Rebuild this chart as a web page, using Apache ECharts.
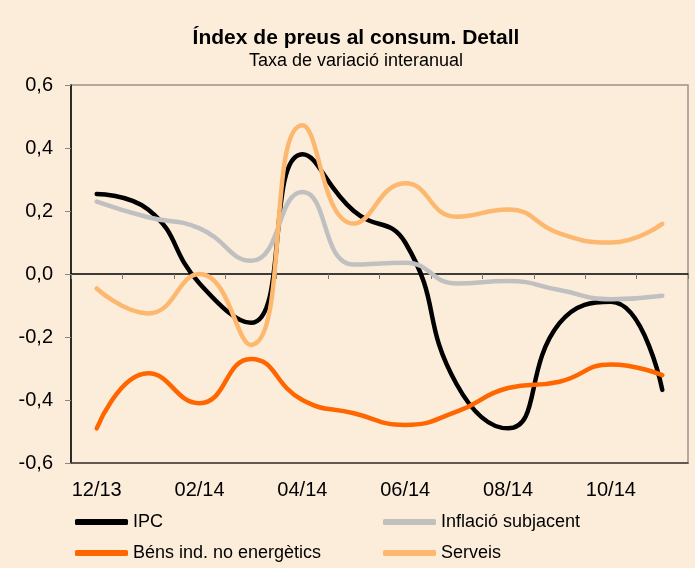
<!DOCTYPE html>
<html>
<head>
    <meta charset="utf-8">
    <title>IPC detall</title>
    <script type="text/javascript" src="https://cdn.jsdelivr.net/npm/echarts@6/dist/echarts.min.js"></script>
    <style>
        html, body { margin: 0; padding: 0; background: #FCEDDA; }
    </style>
</head>
<body>
	<div id="main" style="height:568px; width:695px;"></div>
	<script type="text/javascript">
	var months = ['12/13', '01/14', '02/14', '03/14', '04/14', '05/14', '06/14', '07/14', '08/14', '09/14', '10/14', '11/14'];
	var ipc = [0.254, 0.205, -0.03, -0.155, 0.38, 0.2, 0.1, -0.35, -0.49, -0.156, -0.088, -0.368];
	var inflacio = [0.23, 0.18, 0.145, 0.042, 0.26, 0.03, 0.036, -0.03, -0.022, -0.051, -0.08, -0.069];
	var bens = [-0.49, -0.315, -0.41, -0.27, -0.4, -0.442, -0.479, -0.437, -0.362, -0.342, -0.287, -0.321];
	var serveis = [-0.046, -0.125, 0.0, -0.225, 0.472, 0.16, 0.288, 0.182, 0.205, 0.129, 0.1, 0.159];

	var myChart = echarts.init(document.getElementById('main'));
	var font = 'Liberation Sans, Arial, sans-serif';

	function serie(name, data, color) {
	    return {
	        name: name,
	        type: 'line',
	        data: data,
	        smooth: 0.5,
	        symbol: 'none',
	        lineStyle: {color: color, width: 4.5, cap: 'round'},
	        itemStyle: {color: color}
	    };
	}

	function legendCol(left, names) {
	    return {
	        orient: 'vertical',
	        left: left,
	        top: 512,
	        padding: 0,
	        itemGap: 11,
	        itemWidth: 53,
	        itemHeight: 6,
	        icon: 'roundRect',
	        textStyle: {fontFamily: font, fontSize: 18, color: '#000', lineHeight: 20},
	        data: names
	    };
	}

	var option = {
	    backgroundColor: '#FCEDDA',
	    textStyle: {fontFamily: font},
	    animation: false,
	    title: {
	        text: 'Índex de preus al consum. Detall',
	        subtext: 'Taxa de variació interanual',
	        left: 356,
	        textAlign: 'center',
	        top: 26,
	        padding: 0,
	        itemGap: 0,
	        textStyle: {fontFamily: font, fontSize: 21, fontWeight: 'bold', color: '#000', lineHeight: 24},
	        subtextStyle: {fontFamily: font, fontSize: 18, color: '#000', lineHeight: 22}
	    },
	    legend: [
	        legendCol(75, ['IPC', 'Béns ind. no energètics']),
	        legendCol(383, ['Inflació subjacent', 'Serveis'])
	    ],
	    grid: {
	        left: 71,
	        right: 7,
	        top: 85,
	        bottom: 105,
	        show: true,
	        backgroundColor: 'transparent',
	        borderColor: '#9C938A',
	        borderWidth: 1.5
	    },
	    xAxis: [
	        {
	            // labels along the bottom edge
	            type: 'category',
	            data: months,
	            boundaryGap: true,
	            position: 'bottom',
	            axisLine: {onZero: false, lineStyle: {color: '#4A3F35', width: 1.5}},
	            axisTick: {show: false},
	            axisLabel: {interval: 1, fontSize: 20, color: '#000', margin: 17, fontFamily: font},
	            splitLine: {show: false}
	        },
	        {
	            // zero line with ticks
	            type: 'category',
	            data: months,
	            boundaryGap: true,
	            position: 'bottom',
	            axisLine: {onZero: true, lineStyle: {color: '#000', width: 1.5}},
	            axisTick: {show: true, length: 5, lineStyle: {color: '#777'}},
	            axisLabel: {show: false},
	            splitLine: {show: false}
	        }
	    ],
	    yAxis: {
	        type: 'value',
	        min: -0.6,
	        max: 0.6,
	        interval: 0.2,
	        axisLine: {show: true, lineStyle: {color: '#000', width: 1.5}},
	        axisTick: {show: true, length: 6, lineStyle: {color: '#888'}},
	        axisLabel: {
	            fontSize: 20,
	            color: '#000',
	            margin: 18,
	            fontFamily: font,
	            formatter: function (v) { return v.toFixed(1).replace('.', ','); }
	        },
	        splitLine: {show: false}
	    },
	    series: [
	        serie('IPC', ipc, '#000000'),
	        serie('Inflació subjacent', inflacio, '#C0C0C0'),
	        serie('Béns ind. no energètics', bens, '#FF6600'),
	        serie('Serveis', serveis, '#FDB870')
	    ]
	};
	myChart.setOption(option);
	</script>
</body>
</html>
